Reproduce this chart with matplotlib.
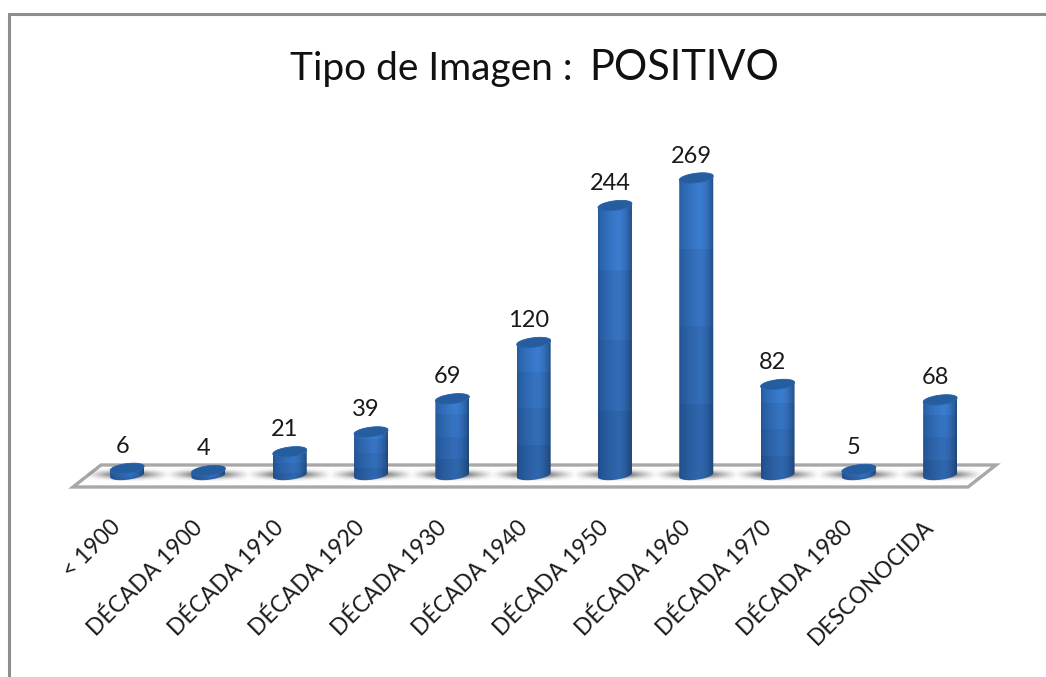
import numpy as np
import matplotlib
matplotlib.use("Agg")
import matplotlib.pyplot as plt
from matplotlib.lines import Line2D
from matplotlib.patches import PathPatch, Polygon
from matplotlib.path import Path
from matplotlib.colors import to_rgb
from matplotlib.transforms import ScaledTranslation

categories = ["< 1900", "DÉCADA 1900", "DÉCADA 1910", "DÉCADA 1920", "DÉCADA 1930", "DÉCADA 1940",
              "DÉCADA 1950", "DÉCADA 1960", "DÉCADA 1970", "DÉCADA 1980", "DESCONOCIDA"]
values = [6, 4, 21, 39, 69, 120, 244, 269, 82, 5, 68]

W, H = 1046, 677
plt.rcParams['font.family'] = ['Lato', 'DejaVu Sans']


def fx(x):
    return x / W


def fy(y):
    return 1 - y / H


fig = plt.figure(figsize=(W / 100, H / 100), dpi=100, facecolor="white")

# outer frame, cut off by the image on the right and bottom
fig.add_artist(Line2D([fx(8.5), fx(8.5), 1], [0, fy(13.5), fy(13.5)], color="#8e8e8e", lw=2.2,
                      solid_joinstyle="miter"))

# floor of the 3d chart, has to stay under the axes
floor = [(73, 487), (101, 465), (996, 465), (968, 487)]
fig.add_artist(Polygon([(fx(a), fy(b)) for a, b in floor], closed=True, fc="white", ec="#a8a8a8", lw=2.4,
                       zorder=-1))

# plot area: y=0 sits on the bar base line, x spacing is 81.3px per category
left, right = 86.5, 980.8
base, top = 475.0, 178.0
px_x = (right - left) / 11
px_y = (base - top) / 269.0
margin = 15.0  # px kept below the base line and above the tallest bar, so nothing gets clipped

ax = fig.add_axes([fx(left), fy(base + margin), (right - left) / W, (base - top + 2 * margin) / H])
ax.patch.set_alpha(0)
for s in ax.spines.values():
    s.set_visible(False)

half_w = 17.0 / px_x
ell_h = 4.8 / px_y
tilt = 2.0 / px_y

edge_l = np.array(to_rgb("#245a9c"))
edge_r = np.array(to_rgb("#224f86"))
mid = np.array(to_rgb("#3a7ccf"))


def shading():
    # horizontal colour profile with 4 bands that get darker towards the floor
    u = np.linspace(0, 1, 60)
    rows = []
    for factor in [1.0, 0.91, 0.84, 0.76]:
        row = []
        for k in u:
            if k < 0.58:
                c = edge_l + (mid - edge_l) * (k / 0.58) ** 0.6
            else:
                c = mid + (edge_r - mid) * ((k - 0.58) / 0.42) ** 2
            row.append(c * factor + (1 - factor) * np.array([0.05, 0.12, 0.25]))
        rows.append(row)
    return np.array(rows)


def ellipse_arc(cx, cy, t):
    return np.column_stack([cx + half_w * np.cos(t), cy + ell_h * np.sin(t) + tilt * np.cos(t)])


shade = shading()

# soft shadows on the floor
sx = np.linspace(-1, 1, 80)
sy = np.linspace(-1, 1, 20)
alpha = np.outer(np.exp(-(sy * 1.7) ** 2), np.clip(1 - np.abs(sx), 0, 1) ** 1.1) * 0.8
shadow = np.zeros((20, 80, 4))
shadow[..., 3] = alpha

for i, v in enumerate(values):
    ax.imshow(shadow, extent=[i - 0.52, i + 0.52, -6.5 / px_y, 6.5 / px_y], aspect="auto",
              interpolation="bilinear", zorder=1)

for i, v in enumerate(values):
    low = ellipse_arc(i, 0, np.linspace(np.pi, 2 * np.pi, 40))
    up = ellipse_arc(i, v, np.linspace(0, np.pi, 40))
    outline = np.vstack([low, up, low[:1]])
    clip = PathPatch(Path(outline, closed=True), transform=ax.transData, fc="none", ec="none")
    ax.add_patch(clip)
    im = ax.imshow(shade, extent=[i - half_w, i + half_w, -(ell_h + tilt), v + ell_h + tilt], aspect="auto",
                   interpolation="nearest", zorder=2)
    im.set_clip_path(clip)
    cap = ellipse_arc(i, v, np.linspace(0, 2 * np.pi, 80))
    ax.add_patch(Polygon(cap, closed=True, fc="#265d9f", ec="#2a66ae", lw=0.6, zorder=3))
    ax.annotate(str(v), (i, v), xytext=(-3.6, 15.8), textcoords="offset points", ha="center", va="center",
                fontsize=17, color="#1a1a1a", zorder=4)

ax.set_xlim(-0.5, 10.5)
ax.set_ylim(-margin / px_y, 269 + margin / px_y)
ax.set_yticks([])
ax.set_xticks(range(len(categories)))
ax.set_xticklabels(categories, rotation=45, ha="right", va="top", rotation_mode="anchor", fontsize=16.4,
                   color="#1a1a1a")
ax.tick_params(axis="x", length=0, pad=19)
shift = ScaledTranslation(-17 / 100, 0, fig.dpi_scale_trans)
for lab in ax.get_xticklabels():
    lab.set_transform(lab.get_transform() + shift)

# title has two font sizes in the original
fig.text(fx(290), fy(80), "Tipo de Imagen :", fontsize=28, color="#111111", ha="left", va="baseline")
fig.text(fx(589), fy(80), "POSITIVO", fontsize=30, color="#111111", ha="left", va="baseline")

fig.savefig("out.png", dpi=100, facecolor="white")
